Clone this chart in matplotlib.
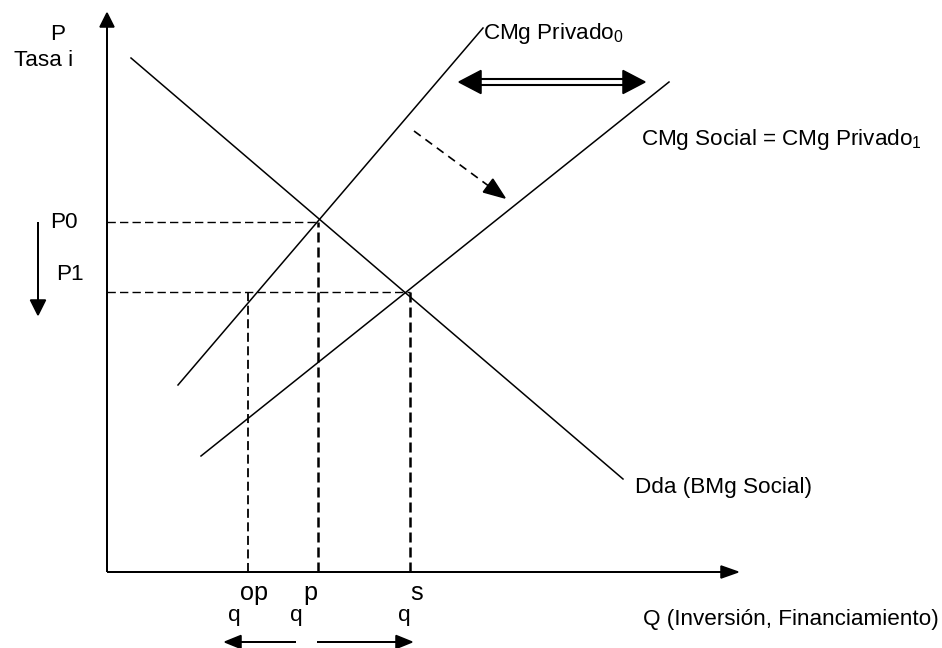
import matplotlib
matplotlib.use("Agg")
import matplotlib.pyplot as plt

plt.rcParams['font.family'] = ['Liberation Sans', 'DejaVu Sans']
plt.rcParams['mathtext.fontset'] = 'custom'
plt.rcParams['mathtext.rm'] = 'Liberation Sans'

# ---- data (diagram units; origin at axes corner) ----
axis_q_end = 631
axis_p_end = 559
demand_q = [24, 516]
demand_p = [514, 93]
cmg_priv0_q = [71, 376]
cmg_priv0_p = [187, 544]
cmg_social_q = [94, 562]
cmg_social_p = [116, 490]
P0, P1 = 350, 280
q_op, q_p, q_s = 141, 211, 303
shift_q = [307, 398]
shift_p = [441, 374]
double_q = [352, 538]
double_p = 490
bottom_arrow_p = -70
left_arrow_q = [189, 118]
right_arrow_q = [210, 305]
price_arrow_q = -69
price_arrow_p = [350, 257]

FS = 16.2
LW = 1.1
K = 'black'

fig = plt.figure(figsize=(9.42, 6.48), dpi=100)
ax = fig.add_axes([0, 0, 1, 1])
ax.set_xlim(-107, 835)
ax.set_ylim(-76, 572)
ax.axis('off')

def arrow(x0, y0, x1, y1, hl, hw, lw=LW):
    ax.arrow(x0, y0, x1 - x0, y1 - y0, width=0, head_length=hl, head_width=hw,
             length_includes_head=True, fc=K, ec=K, lw=lw)

# axes
arrow(0, 0, 0, axis_p_end, 14, 14)
arrow(0, 0, axis_q_end, 0, 17, 12)

# curves
ax.plot(demand_q, demand_p, color=K, lw=LW)
ax.plot(cmg_priv0_q, cmg_priv0_p, color=K, lw=LW)
ax.plot(cmg_social_q, cmg_social_p, color=K, lw=LW)

# dashed guides
thin = dict(color=K, lw=1.0, dashes=(6.0, 3.0))
thick = dict(color=K, lw=1.8, dashes=(4.0, 2.0))
ax.plot([0, q_p], [P0, P0], **thin)
ax.plot([0, q_s], [P1, P1], **thin)
ax.plot([q_op, q_op], [0, P1], color=K, lw=1.3, dashes=(5.0, 2.5))
ax.plot([q_p, q_p], [0, P0], **thick)
ax.plot([q_s, q_s], [0, P1], **thick)

# shift arrow (dashed)
dx = shift_q[1] - shift_q[0]
dy = shift_p[1] - shift_p[0]
L = (dx ** 2 + dy ** 2) ** 0.5
ux, uy = dx / L, dy / L
hl = 21
ax.plot([shift_q[0], shift_q[1] - ux * hl], [shift_p[0], shift_p[1] - uy * hl],
        color=K, lw=1.2, dashes=(5.0, 3.5))
arrow(shift_q[1] - ux * hl, shift_p[1] - uy * hl, shift_q[1], shift_p[1], hl, 16)

# double arrow
hd = 22
for off in (-3, 3):
    ax.plot([double_q[0] + hd - 2, double_q[1] - hd + 2], [double_p + off, double_p + off],
            color=K, lw=1.5)
arrow(double_q[0] + hd, double_p, double_q[0], double_p, hd, 23)
arrow(double_q[1] - hd, double_p, double_q[1], double_p, hd, 23)

# bottom arrows
arrow(left_arrow_q[0], bottom_arrow_p, left_arrow_q[1], bottom_arrow_p, 16, 13)
arrow(right_arrow_q[0], bottom_arrow_p, right_arrow_q[1], bottom_arrow_p, 16, 13)

# price arrow
arrow(price_arrow_q, price_arrow_p[0], price_arrow_q, price_arrow_p[1], 15, 15)

# texts
ax.text(-49, 538, 'P', fontsize=FS, ha='center', va='center')
ax.text(-63, 511, 'Tasa i', fontsize=FS, ha='center', va='center')
ax.text(-43, 350, 'P0', fontsize=FS, ha='center', va='center')
ax.text(-37, 297, 'P1', fontsize=FS, ha='center', va='center')
ax.text(376, 538, r'CMg Privado$_\mathregular{0}$', fontsize=FS, ha='left', va='center')
ax.text(534, 432, r'CMg Social = CMg Privado$_\mathregular{1}$', fontsize=FS, ha='left', va='center')
ax.text(528, 84, 'Dda (BMg Social)', fontsize=FS, ha='left', va='center')
ax.text(536, -48, 'Q (Inversión, Financiamiento)', fontsize=FS, ha='left', va='center')

q_labels = ['op', 'p', 's']
q_base_x = [127, 189, 297]
q_sup_x = [147, 203, 310]
for bx, sx, lab in zip(q_base_x, q_sup_x, q_labels):
    ax.text(bx, -43, 'q', fontsize=FS, ha='center', va='center')
    ax.text(sx, -21, lab, fontsize=FS + 2, ha='center', va='center')

fig.savefig('out.png', dpi=100)
